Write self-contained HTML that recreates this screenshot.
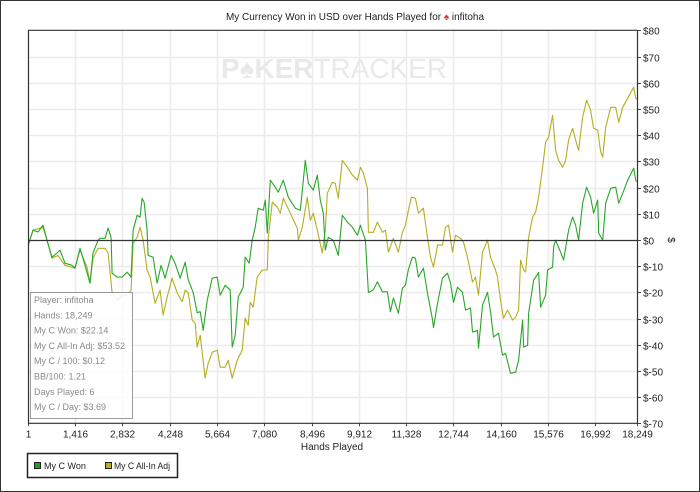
<!DOCTYPE html>
<html><head><meta charset="utf-8">
<style>
html,body{margin:0;padding:0;background:#fff;}
body{width:700px;height:492px;overflow:hidden;font-family:"Liberation Sans",Arial,sans-serif;}
#frame{position:absolute;left:0;top:0;width:698px;height:490px;border:1px solid #333;}
svg{position:absolute;left:0;top:0;}
</style></head>
<body>
<div id="frame"></div>
<svg id="chart" width="700" height="492" xmlns="http://www.w3.org/2000/svg">
  <text x="355" y="20" font-size="10" text-anchor="middle" fill="#222" textLength="258" lengthAdjust="spacingAndGlyphs">My Currency Won in USD over Hands Played for <tspan fill="#e03a2a">♠</tspan> infitoha</text>
  <text x="334" y="78" font-size="28" text-anchor="middle" fill="#e9e9e9" font-weight="bold" textLength="226" lengthAdjust="spacingAndGlyphs">P♠KER<tspan font-weight="normal">TRACKER</tspan></text>
  <g id="grid"></g>
  <g id="series"></g>
  <g id="axes"></g>
  <text x="332" y="450" font-size="10" text-anchor="middle" fill="#222">Hands Played</text>
  <text x="668" y="240" font-size="10" text-anchor="middle" fill="#222" transform="rotate(90 668 240)">$</text>
  <g>
    <rect x="30.5" y="292.5" width="102" height="126" fill="#fff" fill-opacity="0.85" stroke="#999"/>
    <g font-size="9" fill="#8a8a8a">
      <text x="34" y="303">Player: infitoha</text>
      <text x="34" y="318.3">Hands: 18,249</text>
      <text x="34" y="333.6">My C Won: $22.14</text>
      <text x="34" y="348.9">My C All-In Adj: $53.52</text>
      <text x="34" y="364.2">My C / 100: $0.12</text>
      <text x="34" y="379.5">BB/100: 1.21</text>
      <text x="34" y="394.8">Days Played: 6</text>
      <text x="34" y="410.1">My C / Day: $3.69</text>
    </g>
  </g>
  <g>
    <rect x="27.5" y="453.5" width="150" height="24" fill="#fff" stroke="#222" stroke-width="1.5"/>
    <g>
      <rect x="34.5" y="462.5" width="6" height="6" fill="#1fa01f" stroke="#222"/>
      <text x="44" y="469" font-size="9" fill="#222">My C Won</text>
    </g>
    <g>
      <rect x="105.5" y="462.5" width="6" height="6" fill="#b8b020" stroke="#222"/>
      <text x="114" y="469" font-size="9" fill="#222" textLength="56" lengthAdjust="spacingAndGlyphs">My C All-In Adj</text>
    </g>
  </g>
</svg>
<script>
const xTickLabels = ["1","1,416","2,832","4,248","5,664","7,080","8,496","9,912","11,328","12,744","14,160","15,576","16,992","18,249"];
const xTickValues = [1,1416,2832,4248,5664,7080,8496,9912,11328,12744,14160,15576,16992,18249];
const yTickValues = [80,70,60,50,40,30,20,10,0,-10,-20,-30,-40,-50,-60,-70];
const wonHands = [10,150,300,450,570,720,870,960,1110,1320,1410,1560,1710,1860,1950,2100,2160,2310,2400,2490,2520,2670,2820,2970,3090,3150,3270,3360,3420,3480,3570,3600,3750,3870,3990,4110,4290,4410,4560,4710,4800,4950,5070,5160,5250,5370,5520,5670,5760,5910,6060,6120,6210,6300,6450,6510,6630,6720,6810,6900,7050,7110,7170,7260,7410,7500,7650,7800,8010,8160,8310,8400,8550,8670,8760,8850,8910,9000,9150,9300,9420,9570,9720,9870,9960,10110,10200,10350,10470,10620,10770,10860,10950,11100,11220,11310,11400,11520,11610,11700,11850,11970,12120,12150,12270,12420,12570,12660,12750,12870,13020,13110,13260,13320,13470,13500,13620,13770,13860,13950,14100,14220,14310,14460,14610,14700,14820,14850,14970,15000,15150,15300,15360,15510,15570,15720,15750,15810,15960,16050,16200,16320,16410,16500,16620,16740,16860,16950,17070,17100,17220,17310,17460,17610,17700,17820,17970,18150,18210,18249];
const wonValues = [-2.0,3.7,3.0,5.6,-0.1,-6.6,-5.0,-3.9,-8.9,-9.7,-10.8,-3.2,-9.7,-16.5,-5.0,-0.1,0.6,0.6,4.5,1.0,-12.7,-14.2,-14.2,-12.3,-14.2,3.7,9.4,8.7,15.9,14.4,3.7,-5.9,-6.6,-16.5,-9.7,-14.6,-5.9,-8.9,-14.6,-8.5,-15.2,-20.1,-27.8,-27.4,-34.5,-23.0,-14.6,-14.2,-21.1,-17.3,-19.2,-40.9,-36.4,-21.9,-18.1,-6.6,-8.9,-0.1,4.8,12.1,11.3,15.2,2.6,22.8,20.1,18.2,22.8,16.3,12.1,11.3,30.4,21.6,19.0,24.7,15.2,10.2,-3.9,1.0,-0.1,-5.9,9.4,6.8,4.8,1.8,5.6,-0.1,-20.1,-19.0,-16.0,-19.8,-19.8,-27.4,-22.2,-28.0,-18.4,-17.3,-11.3,-6.6,-7.0,-14.2,-10.8,-20.1,-30.4,-33.5,-24.2,-14.6,-12.7,-16.5,-23.8,-18.1,-20.0,-26.8,-26.0,-35.2,-34.5,-41.3,-24.9,-20.0,-27.4,-37.1,-35.6,-44.0,-43.3,-50.9,-50.5,-45.9,-30.6,-40.9,-40.2,-28.0,-15.4,-12.5,-25.7,-21.1,-11.5,-10.4,-2.8,-0.1,-4.7,-7.7,3.7,8.7,5.6,-0.1,14.0,20.1,16.3,10.2,15.2,2.6,-0.1,14.0,19.7,20.1,14.0,17.8,22.8,27.4,22.8,22.14];
const allinHands = [10,150,450,570,720,900,1110,1410,1560,1770,1860,1950,2100,2310,2400,2520,2670,2820,2970,3090,3150,3270,3360,3450,3570,3660,3810,3960,4050,4170,4320,4470,4620,4710,4800,4920,5010,5070,5160,5310,5400,5520,5670,5760,5910,6000,6120,6270,6420,6510,6600,6660,6750,6870,7020,7170,7200,7320,7470,7560,7650,7860,8070,8100,8220,8370,8460,8550,8670,8820,8910,8970,9120,9210,9300,9420,9570,9720,9870,9960,10050,10170,10200,10350,10470,10620,10710,10800,10950,11100,11220,11310,11400,11490,11610,11700,11850,11970,12060,12150,12270,12420,12510,12600,12720,12810,12960,13050,13170,13320,13410,13500,13620,13770,13860,14010,14070,14160,14250,14370,14520,14610,14700,14760,14850,14910,15000,15120,15210,15300,15420,15510,15600,15720,15810,15900,16020,16110,16200,16320,16410,16500,16620,16740,16860,16950,17070,17160,17220,17310,17460,17610,17700,17820,17970,18150,18210,18249];
const allinValues = [-2.0,3.7,4.8,-0.1,-7.0,-5.9,-9.7,-10.8,-3.9,-10.4,-16.5,-7.0,-3.2,-3.2,-5.0,-20.1,-23.0,-21.1,-21.1,-19.2,-1.3,1.0,4.8,-0.1,-11.5,-14.2,-24.2,-19.2,-28.7,-21.9,-14.6,-20.1,-23.6,-19.2,-20.1,-30.6,-31.8,-40.9,-36.4,-52.8,-47.1,-42.9,-42.1,-48.6,-48.6,-45.9,-52.8,-45.9,-42.1,-29.9,-32.6,-23.8,-25.7,-14.2,-11.5,-11.5,1.0,14.4,12.5,10.2,15.9,10.2,4.5,-0.1,4.8,16.3,7.5,10.2,3.7,-5.0,3.7,17.8,22.0,21.6,15.9,30.4,27.7,24.7,22.8,27.7,25.5,19.7,2.9,2.9,6.8,2.9,3.7,-4.7,0.6,-4.7,2.9,5.6,11.3,16.3,15.9,10.2,12.1,1.0,-6.6,-10.4,-2.0,-2.0,4.8,5.6,-4.7,1.8,0.6,-0.9,-6.6,-16.1,-14.2,-21.1,-4.7,-0.1,-6.6,-11.5,-14.2,-23.0,-29.9,-26.8,-30.6,-29.5,-26.8,-7.7,-11.5,-12.3,1.0,8.7,10.6,16.3,27.7,37.3,39.2,47.6,34.2,30.4,27.7,30.4,38.1,42.6,38.1,34.2,46.8,53.3,49.5,42.6,41.9,33.5,31.6,43.0,50.6,50.6,44.9,50.6,54.1,58.3,54.1,53.52];

const NS = "http://www.w3.org/2000/svg";
const L = 28, R = 637, T = 30.3, B = 423.3;
const xMin = 1, xMax = 18249, yMin = -70, yMax = 80;
function xs(h){ return L + (h - xMin) / (xMax - xMin) * (R - L); }
function ys(v){ return B - (v - yMin) / (yMax - yMin) * (B - T); }
function mk(tag, attrs, parent){ const e = document.createElementNS(NS, tag); for (const k in attrs) e.setAttribute(k, attrs[k]); parent.appendChild(e); return e; }

const grid = document.getElementById('grid');
const axes = document.getElementById('axes');
const series = document.getElementById('series');

yTickValues.forEach(v => {
  const y = Math.round(ys(v)) + 0.5;
  if (v !== 0 && v !== yMax) {
    const g = mk('line', {x1: L, x2: R, y1: y, y2: y, stroke: '#ececec', 'stroke-width': 1.5}, grid);
    
    
  }
  const t = mk('line', {x1: R, x2: R + 4, y1: y, y2: y, stroke: '#444'}, axes);
  
  
  const lb = mk('text', {x: R + 6, y: y + 4, 'font-size': 10, fill: '#222'}, axes);
  lb.textContent = '$' + v;
  
  
});
xTickValues.forEach((h, i) => {
  const x = Math.round(xs(h)) + 0.5;
  if (i > 0 && i < xTickValues.length - 1) {
    const g = mk('line', {x1: x, x2: x, y1: T, y2: B, stroke: '#ececec', 'stroke-width': 1.5}, grid);
    
    
  }
  const t = mk('line', {x1: x, x2: x, y1: B, y2: B + 3, stroke: '#444'}, axes);
  
  
  const lb = mk('text', {x: x, y: B + 14, 'font-size': 10, fill: '#222', 'text-anchor': 'middle'}, axes);
  lb.textContent = xTickLabels[i];
  
  
});
const zy = Math.round(ys(0)) + 0.5;
const zl = mk('line', {x1: L, x2: R, y1: zy, y2: zy, stroke: '#333', 'stroke-width': 1.2}, axes);


const bd = mk('path', {d: `M${R+0.5},${T} L${L+0.5},${T} L${L+0.5},${B} L${R+0.5},${B} L${R+0.5},${T}`, fill: 'none', stroke: '#333', 'stroke-width': 1.2}, axes);



function drawLine(hands, vals, color, name){
  const d = hands.map((h, i) => (i ? 'L' : 'M') + xs(h).toFixed(1) + ',' + ys(vals[i]).toFixed(1)).join(' ');
  const p = mk('path', {d: d, fill: 'none', stroke: color, 'stroke-width': 1.1, 'stroke-linejoin': 'round'}, series);
  
  
}
drawLine(allinHands, allinValues, '#b5ad22', 'series-allin-adj-line');
drawLine(wonHands, wonValues, '#2aa52a', 'series-won-line');
</script>
</body></html>
